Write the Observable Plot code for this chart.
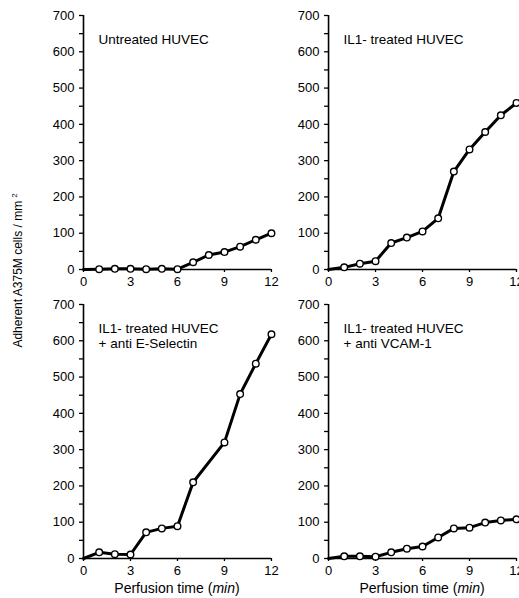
<!DOCTYPE html>
<html>
<head>
<meta charset="utf-8">
<script src="https://cdn.jsdelivr.net/npm/d3@7"></script>
<script src="https://cdn.jsdelivr.net/npm/@observablehq/plot@0.6"></script>
<style>
  html, body { margin: 0; padding: 0; background: #fff; }
  #chart svg { display: block; font-family: "Liberation Sans", Arial, sans-serif; }
</style>
</head>
<body>
<div id="chart"></div>
<script>
// Perfusion time (min)
const times = [0, 1, 2, 3, 4, 5, 6, 7, 8, 9, 10, 11, 12];

// Adherent A375M cells / mm² per panel (null = no point shown)
const untreated  = [0, 1, 2, 2, 1, 2, 1, 20, 40, 48, 63, 82, 100];
const il1        = [0, 6, 16, 23, 73, 88, 105, 141, 270, 331, 379, 425, 459];
const antiESel   = [0, 17, 12, 11, 72, 83, 89, 210, null, 320, 453, 537, 618];
const antiVCAM   = [0, 6, 6, 5, 17, 27, 33, 58, 83, 85, 99, 105, 108];

const panelTitles = [
  "Untreated HUVEC",
  "IL1- treated HUVEC",
  "IL1- treated HUVEC\n+ anti E-Selectin",
  "IL1- treated HUVEC\n+ anti VCAM-1"
];
const panelCols = [0, 1, 0, 1];
const panelRows = [0, 0, 1, 1];
const seriesList = [untreated, il1, antiESel, antiVCAM];

const yTicks = [0, 100, 200, 300, 400, 500, 600, 700];
const yMinorTicks = [50, 150, 250, 350, 450, 550, 650];
const xTicks = [0, 3, 6, 9, 12];

const xLabel = "Perfusion time (";
const xLabelUnit = "min";
const yLabel = "Adherent A375M cells / mm";
const yLabelSup = "2";

// build tidy table
const rows = [];
seriesList.forEach((vals, p) => {
  vals.forEach((v, i) => {
    if (v != null) rows.push({panel: p, col: panelCols[p], row: panelRows[p], t: times[i], v});
  });
});
const titles = panelTitles.map((title, p) => ({title, col: panelCols[p], row: panelRows[p]}));

const W = 519, H = 598;
const chart = Plot.plot({
  width: W,
  height: H,
  marginLeft: 83,
  marginRight: 3,
  marginTop: 15,
  marginBottom: 40,
  style: {fontFamily: '"Liberation Sans", Arial, sans-serif', fontSize: "13px", color: "#000", background: "#fff"},
  fx: {domain: [0, 1], paddingInner: 0.233, paddingOuter: 0, axis: null, round: false},
  fy: {domain: [0, 1], paddingInner: 0.121, paddingOuter: 0, axis: null, round: false},
  x: {domain: [0, 12]},
  y: {domain: [0, 700]},
  marks: [
    Plot.axisY(yTicks, {tickSize: 4, tickPadding: 5, strokeWidth: 1.3, facetAnchor: null, label: null, fontSize: 13}),
    Plot.axisY(yMinorTicks, {tickSize: 4, text: null, strokeWidth: 1.3, facetAnchor: null, label: null}),
    Plot.axisX(xTicks, {tickSize: 3, tickPadding: 4, strokeWidth: 1.3, facetAnchor: null, label: null, fontSize: 13}),
    Plot.ruleY([0], {stroke: "#000", strokeWidth: 1.6}),
    Plot.ruleX([0], {stroke: "#000", strokeWidth: 1.6}),
    Plot.line(rows, {x: "t", y: "v", fx: "col", fy: "row", z: "panel", stroke: "#000", strokeWidth: 3, curve: "linear"}),
    Plot.dot(rows.filter(d => d.t > 0), {x: "t", y: "v", fx: "col", fy: "row", r: 3.3, fill: "#fff", stroke: "#000", strokeWidth: 1.4}),
    Plot.text(titles, {fx: "col", fy: "row", text: "title", frameAnchor: "top-left", textAnchor: "start", lineAnchor: "top", dx: 15, dy: 17, fontSize: 13.5, lineHeight: 1.15, fill: "#000"})
  ]
});

document.getElementById("chart").appendChild(chart);

// axis titles
const svg = d3.select(chart);
const fx = chart.scale("fx");
const fy = chart.scale("fy");
const bw = fx.bandwidth;
const ySpanCenter = (fy.range[0] + fy.range[1]) / 2;

const yl = svg.append("text")
  .attr("transform", `translate(22,${ySpanCenter - 16}) rotate(-90)`)
  .attr("text-anchor", "middle")
  .attr("font-size", 12)
  .attr("fill", "#000");
yl.append("tspan").text(yLabel);
yl.append("tspan").attr("dx", 3).attr("dy", -5).attr("font-size", 8).text(yLabelSup);

fx.domain.forEach(c => {
  const cx = fx.apply(c) + bw / 2;
  const t = svg.append("text")
    .attr("x", cx)
    .attr("y", H - 5)
    .attr("text-anchor", "middle")
    .attr("font-size", 14)
    .attr("fill", "#000");
  t.append("tspan").text(xLabel);
  t.append("tspan").attr("font-style", "italic").text(xLabelUnit);
  t.append("tspan").text(")");
});
</script>
</body>
</html>
